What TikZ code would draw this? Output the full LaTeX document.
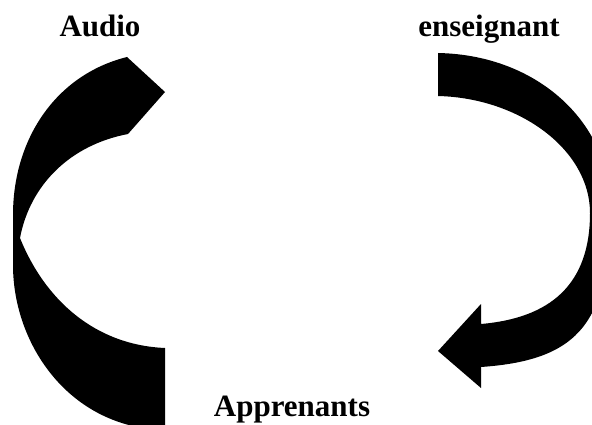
\documentclass[tikz,border=0pt]{standalone}
\usepackage{fontspec}
\setmainfont{Liberation Serif}
\begin{document}
\begin{tikzpicture}[x=1pt,y=-1pt,
  lbl/.style={inner sep=0pt,anchor=base,font=\fontsize{31}{37}\selectfont\bfseries},
  band/.style={fill=black,draw=none}]
\useasboundingbox (0,0) rectangle (592,425);
\clip (0,0) rectangle (592,425);
% labels
\node[lbl] (audio) at (100,37) {Audio};
\node[lbl] (ens) at (489,37) {enseignant};
\node[lbl] (app) at (292,416) {Apprenants};
% left band (Audio)
\path[band] (127,57) .. controls (55,75) and (13,140) .. (13,215)
  -- (13,265) .. controls (13,345) and (70,428) .. (165,430)
  -- (165,348) .. controls (95,345) and (45,300) .. (20,238)
  .. controls (30,185) and (70,145) .. (128,134)
  -- (165,92) -- cycle;
% right curved arrow (enseignant)
\path[band] (438,53) .. controls (540,55) and (610,125) .. (610,205)
  .. controls (610,320) and (582,360) .. (481,367)
  -- (481,388) -- (438,351) -- (481,304) -- (481,324)
  .. controls (550,318) and (590,285) .. (590,213)
  .. controls (590,150) and (520,98) .. (438,96) -- cycle;
\end{tikzpicture}
\end{document}
